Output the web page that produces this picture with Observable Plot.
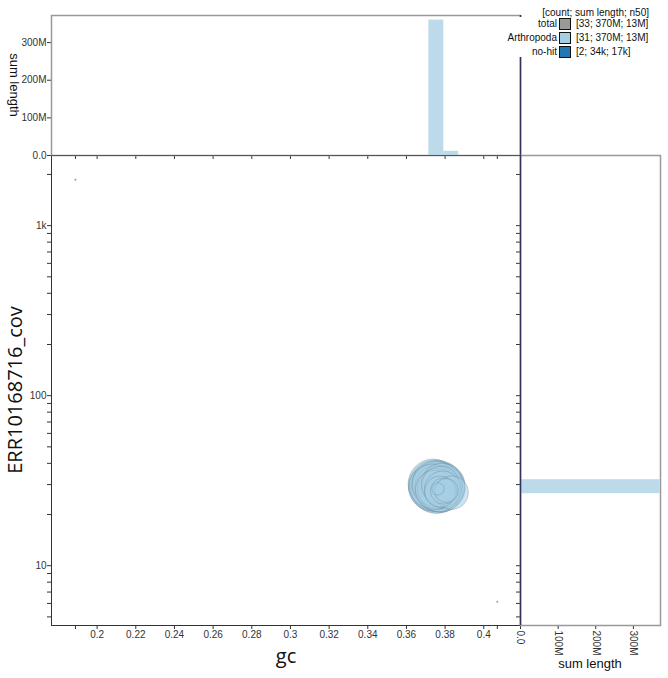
<!DOCTYPE html>
<html><head><meta charset="utf-8">
<script src="https://cdn.jsdelivr.net/npm/d3@7"></script>
<script src="https://cdn.jsdelivr.net/npm/@observablehq/plot@0.6"></script>
<style>
body{margin:0;background:#fff;}
#chart{position:relative;width:668px;height:678px;overflow:hidden;background:#fff;}
#chart svg{position:absolute;left:0;top:0;}
.lbl{position:absolute;white-space:nowrap;color:#111;line-height:1;}
</style></head><body><div id="chart"></div>
<script>
// ---- data ----
const arthGc  = [0.3745,0.3760,0.3738,0.3775,0.3752,0.3768,0.3733,0.3782,0.3749,0.3771,0.3740,0.3786,0.3757,0.3764,0.3729,0.3779,0.3744,0.3790,0.3755,0.3769,0.3736,0.3783,0.3761,0.3748,0.3777,0.3788,0.3834,0.3774,0.3792,0.3806,0.3763];
const arthCov = [29.5,28.8,30.2,29.0,28.2,30.0,28.9,28.5,29.8,29.3,28.6,29.6,30.5,28.0,29.4,27.8,30.8,28.9,29.1,27.6,29.9,30.3,28.4,27.9,29.7,28.1,26.9,27.3,27.5,27.7,28.3];
const arthLen = [18.0,17.3,16.7,16.1,15.6,15.2,14.8,14.5,14.2,14.0,13.8,13.6,13.4,13.2,13.0,12.8,12.6,12.4,12.1,11.8,11.5,11.2,10.8,10.3,9.7,9.0,7.4,6.5,4.6,3.8,1.0].map(v => v * 1e6);
const noHitGc  = [0.1888, 0.4070];
const noHitCov = [1863, 6.14];
const noHitLen = [17000, 17000];

const taxa = ["Arthropoda", "no-hit"];
const taxaColors = ["#a6cee3", "#1f78b4"];

const gcDomain = [0.1764, 0.4190];
const covDomain = [4.45, 2585];
const lenMax = 372e6;
const gcTicks = [0.2,0.22,0.24,0.26,0.28,0.3,0.32,0.34,0.36,0.38,0.4];
const covTicks = [5,6,7,8,9,10,20,30,40,50,60,70,80,90,100,200,300,400,500,600,700,800,900,1000,2000];
const covTickLabels = {10: "10", 100: "100", 1000: "1k"};
const lenTicks = [0, 1e8, 2e8, 3e8];
const lenTickLabels = ["0.0", "100M", "200M", "300M"];
const gcBinOrigin = 0.3716, gcBinWidth = 0.00771;
const covBinLogOrigin = 1.4235, covBinLogWidth = 0.0824;

const legendNames = ["total", "Arthropoda", "no-hit"];
const legendCounts = [33, 31, 2];
const legendSums = ["370M", "370M", "34k"];
const legendN50 = ["13M", "13M", "17k"];
const legendColors = ["#999999", "#a6cee3", "#1f78b4"];

// ---- build ----
const contigs = [];
arthGc.forEach((g, i) => contigs.push({gc: g, cov: arthCov[i], len: arthLen[i], taxon: "Arthropoda"}));
noHitGc.forEach((g, i) => contigs.push({gc: g, cov: noHitCov[i], len: noHitLen[i], taxon: "no-hit"}));
contigs.sort((a, b) => b.len - a.len);

const gcThresholds = d3.range(-40, 20).map(i => gcBinOrigin + i * gcBinWidth);
const covThresholds = d3.range(-30, 30).map(i => 10 ** (covBinLogOrigin + i * covBinLogWidth));
const lenFmt = d => lenTickLabels[lenTicks.indexOf(d)] ?? "";

const common = {
  width: 668, height: 678,
  style: {background: "transparent", overflow: "visible", fontFamily: "'Liberation Sans', Arial, sans-serif", fontSize: "10px", color: "#333"},
  color: {domain: taxa, range: taxaColors}
};

const main = Plot.plot({
  ...common,
  marginLeft: 51, marginRight: 148, marginTop: 155, marginBottom: 53,
  x: {domain: gcDomain, ticks: [...gcTicks, ...noHitGc], tickFormat: d => gcTicks.includes(d) ? String(d) : "", tickSize: 4, tickPadding: 1, line: true, label: null},
  y: {type: "log", domain: covDomain, ticks: covTicks, tickFormat: d => covTickLabels[d] ?? "", tickSize: 4, tickPadding: 1, line: true, label: null},
  r: {type: "sqrt", domain: [0, d3.max(arthLen)], range: [0, 26]},
  marks: [
    Plot.dot(contigs, {x: "gc", y: "cov", r: "len", fill: "taxon", fillOpacity: 0.55, stroke: "#5f7a8a", strokeOpacity: 0.4, strokeWidth: 0.8})
  ]
});

const topHist = Plot.plot({
  ...common,
  marginLeft: 51, marginRight: 148, marginTop: 15, marginBottom: 523,
  x: {domain: gcDomain, ticks: [...gcTicks, ...noHitGc], tickFormat: () => "", tickSize: 4, label: null},
  y: {domain: [0, lenMax], ticks: lenTicks, tickFormat: lenFmt, tickSize: 4, tickPadding: 1, line: true, label: null},
  marks: [
    Plot.frame({stroke: "#999", strokeWidth: 1.5}),
    Plot.rectY(contigs, Plot.binX({y: "sum"}, {x: "gc", y: "len", fill: "taxon", thresholds: gcThresholds, inset: 0, fillOpacity: 0.75})),
    Plot.ruleX([gcDomain[1]], {stroke: "#33335a", strokeWidth: 1.5}),
    Plot.ruleY([0], {stroke: "#555"})
  ]
});

const rightHist = Plot.plot({
  ...common,
  marginLeft: 520, marginRight: 8, marginTop: 155, marginBottom: 53,
  x: {domain: [0, lenMax], ticks: lenTicks, tickFormat: lenFmt, tickRotate: 90, tickSize: 4, tickPadding: 1, line: true, label: null},
  y: {type: "log", domain: covDomain, axis: "left", ticks: covTicks, tickFormat: () => "", tickSize: 4, label: null},
  marks: [
    Plot.frame({stroke: "#999", strokeWidth: 1.5}),
    Plot.rectX(contigs, Plot.binY({x: "sum"}, {y: "cov", x: "len", fill: "taxon", thresholds: covThresholds, inset: 0, fillOpacity: 0.75})),
    Plot.ruleX([0], {stroke: "#33335a", strokeWidth: 1.5})
  ]
});

const chart = document.getElementById("chart");
chart.append(main, topHist, rightHist);

function addText(txt, css) {
  const d = document.createElement("div");
  d.className = "lbl";
  d.textContent = txt;
  Object.assign(d.style, css);
  chart.append(d);
  return d;
}
addText("ERR10168716_cov", {left: "15px", top: "390px", fontFamily: "'Open Sans', sans-serif", fontSize: "20px", transform: "translate(-50%,-50%) rotate(-90deg)"});
addText("gc", {left: "286px", top: "646px", fontFamily: "'Open Sans', sans-serif", fontSize: "20px", transform: "translateX(-50%)"});
addText("sum length", {left: "590px", top: "657px", fontFamily: "'Liberation Sans', Arial, sans-serif", fontSize: "13px", transform: "translateX(-50%)"});
addText("sum length", {left: "14px", top: "84.5px", fontFamily: "'Liberation Sans', Arial, sans-serif", fontSize: "13px", transform: "translate(-50%,-50%) rotate(90deg)"});

// legend
const bg = document.createElement("div");
Object.assign(bg.style, {position: "absolute", left: "519px", top: "17px", width: "149px", height: "40px", background: "#fff"});
chart.append(bg);
const lf = {fontFamily: "'Liberation Sans', Arial, sans-serif", fontSize: "10px"};
addText("[count; sum length; n50]", {...lf, right: "19px", top: "7.5px"});
legendNames.forEach((name, i) => {
  const cy = 24 + i * 13.8;
  addText(name, {...lf, right: "111px", top: (cy - 5) + "px"});
  const sw = document.createElement("div");
  Object.assign(sw.style, {position: "absolute", left: "559px", top: (cy - 6) + "px", width: "10px", height: "10px", background: legendColors[i], border: "1px solid #111"});
  chart.append(sw);
  addText(`[${legendCounts[i]}; ${legendSums[i]}; ${legendN50[i]}]`, {...lf, left: "576px", top: (cy - 5) + "px"});
});
</script></body></html>
